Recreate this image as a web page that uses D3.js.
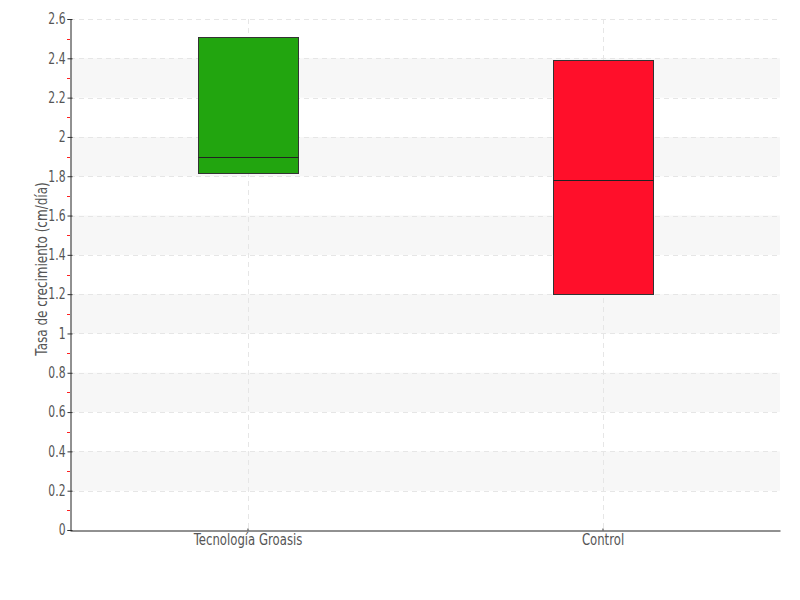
<!DOCTYPE html>
<html>
<head>
<meta charset="utf-8">
<script src="https://cdn.jsdelivr.net/npm/d3@7"></script>
<style>
  body { margin: 0; background: #fff; }
  text { font-family: "DejaVu Sans", sans-serif; }
</style>
</head>
<body>
<div id="chart"></div>
<script>
var categories = ["Tecnología Groasis", "Control"];
var q1 = [1.82, 1.2];
var medians = [1.9, 1.78];
var q3 = [2.51, 2.39];
var colors = ["#22a50f", "#ff0f2a"];
var yTicks = [0, 0.2, 0.4, 0.6, 0.8, 1, 1.2, 1.4, 1.6, 1.8, 2, 2.2, 2.4, 2.6];

var width = 800,
    height = 600,
    margin = {top: 19, right: 20, bottom: 70, left: 70},
    squeeze = 0.72; // condensed look for the narrow font

var svg = d3.select("#chart").append("svg")
    .attr("width", width)
    .attr("height", height);

var x = d3.scalePoint()
    .domain(categories)
    .range([margin.left, width - margin.right])
    .padding(0.5);

var y = d3.scaleLinear()
    .domain([0, 2.6])
    .range([height - margin.bottom, margin.top]);

// alternating bands
var bands = [];
for (var i = 1; i < yTicks.length - 1; i += 2) bands.push([yTicks[i], yTicks[i + 1]]);
svg.append("g").selectAll("rect")
    .data(bands)
  .enter().append("rect")
    .attr("x", margin.left)
    .attr("width", width - margin.right - margin.left)
    .attr("y", function(d) { return y(d[1]); })
    .attr("height", function(d) { return y(d[0]) - y(d[1]); })
    .attr("fill", "#f7f7f7");

// grid lines
svg.append("g").selectAll("line")
    .data(yTicks.slice(1))
  .enter().append("line")
    .attr("x1", margin.left)
    .attr("x2", width - margin.right)
    .attr("y1", function(d) { return Math.round(y(d)) + 0.5; })
    .attr("y2", function(d) { return Math.round(y(d)) + 0.5; })
    .attr("stroke", "#e6e6e6")
    .attr("stroke-dasharray", "5,4");

svg.append("g").selectAll("line")
    .data(categories)
  .enter().append("line")
    .attr("x1", function(d) { return Math.round(x(d)) + 0.5; })
    .attr("x2", function(d) { return Math.round(x(d)) + 0.5; })
    .attr("y1", margin.top)
    .attr("y2", height - margin.bottom)
    .attr("stroke", "#e6e6e6")
    .attr("stroke-dasharray", "5,4");

// boxes
var boxW = 100;
var boxes = svg.append("g").selectAll("g")
    .data(categories)
  .enter().append("g");

boxes.append("rect")
    .attr("x", function(d) { return Math.round(x(d) - boxW / 2) + 0.5; })
    .attr("width", boxW)
    .attr("y", function(d, i) { return Math.round(y(q3[i])) + 0.5; })
    .attr("height", function(d, i) { return Math.round(y(q1[i]) - y(q3[i])); })
    .attr("fill", function(d, i) { return colors[i]; })
    .attr("stroke", "#333")
    .attr("stroke-width", 1);

boxes.append("line")
    .attr("x1", function(d) { return Math.round(x(d) - boxW / 2) + 0.5; })
    .attr("x2", function(d) { return Math.round(x(d) + boxW / 2) + 0.5; })
    .attr("y1", function(d, i) { return Math.round(y(medians[i])) + 0.5; })
    .attr("y2", function(d, i) { return Math.round(y(medians[i])) + 0.5; })
    .attr("stroke", "#222")
    .attr("stroke-width", 1);

// minor ticks
var minor = [];
for (var j = 0; j < yTicks.length - 1; j++) minor.push((yTicks[j] + yTicks[j + 1]) / 2);
svg.append("g").selectAll("line")
    .data(minor)
  .enter().append("line")
    .attr("x1", margin.left - 3)
    .attr("x2", margin.left)
    .attr("y1", function(d) { return Math.round(y(d)) + 0.5; })
    .attr("y2", function(d) { return Math.round(y(d)) + 0.5; })
    .attr("stroke", "#ff2020")
    .attr("stroke-width", 1);

// y axis
var yAxis = svg.append("g")
    .attr("transform", "translate(" + (margin.left + 0.5) + ",0)")
    .call(d3.axisLeft(y).tickValues(yTicks).tickSize(3).tickPadding(0)
      .tickFormat(function(d) { return String(+d.toFixed(1)); }));
yAxis.select(".domain").attr("stroke", "#222");
yAxis.selectAll(".tick line").attr("stroke", "#333").attr("x2", 2).attr("x1", -3);
yAxis.selectAll(".tick text")
    .attr("fill", "#555")
    .attr("x", -5 / squeeze)
    .attr("transform", "scale(" + squeeze + ",1)")
    .style("font-size", "15px");

// x axis
var xAxis = svg.append("g")
    .attr("transform", "translate(0," + (height - margin.bottom + 0.5) + ")")
    .call(d3.axisBottom(x).tickSize(2).tickSizeOuter(0).tickPadding(2));
xAxis.select(".domain").attr("stroke", "#222");
xAxis.selectAll(".tick line").attr("stroke", "#333").attr("y1", -2).attr("y2", 0);
xAxis.selectAll(".tick text")
    .attr("fill", "#555")
    .attr("transform", "scale(0.78,1)")
    .style("font-size", "15px");

// y label
svg.append("text")
    .attr("transform", "translate(47,269) rotate(-90) scale(0.8,1)")
    .attr("text-anchor", "middle")
    .attr("fill", "#555")
    .style("font-size", "15px")
    .text("Tasa de crecimiento (cm/día)");
</script>
</body>
</html>
